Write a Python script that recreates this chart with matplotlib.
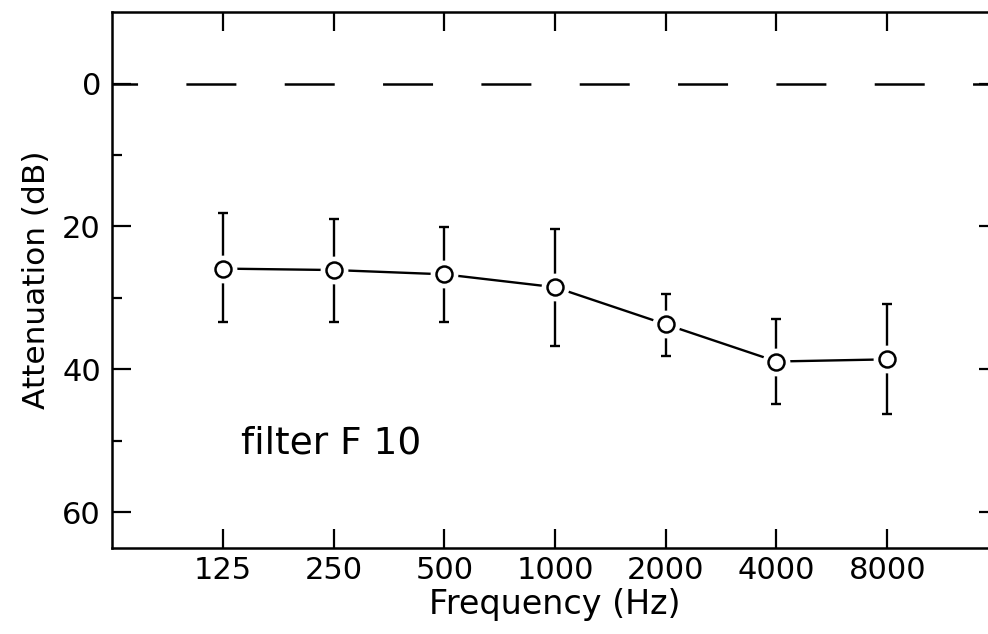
import numpy as np
import matplotlib.pyplot as plt

plt.rcParams['lines.scale_dashes'] = False
plt.rcParams['font.family'] = 'DejaVu Sans'

freqs = ['125', '250', '500', '1000', '2000', '4000', '8000']
atten = np.array([25.9, 26.1, 26.7, 28.5, 33.7, 38.9, 38.6])
err_top = np.array([18.1, 18.9, 20.1, 20.4, 29.4, 33.0, 30.9])
err_bottom = np.array([33.4, 33.4, 33.4, 36.8, 38.1, 44.9, 46.3])

x = np.arange(len(freqs))

fig = plt.figure(figsize=(9.88, 6.34), dpi=100)
ax = fig.add_axes([0.1134, 0.1356, 0.8967, 0.8454])

# reference line at 0 dB
ax.axhline(0, color='black', lw=1.8, linestyle=(17.6, (36.0, 34.8)), zorder=1)

yerr = [atten - err_top, err_bottom - atten]
ax.errorbar(x, atten, yerr=yerr, fmt='none', ecolor='black', elinewidth=1.7,
            capsize=3.4, capthick=1.7, zorder=2)
ax.plot(x, atten, color='black', lw=1.7, zorder=2)
# white halo so lines stop short of the circles
ax.plot(x, atten, 'o', ms=20, mfc='white', mec='none', zorder=3)
ax.plot(x, atten, 'o', ms=11.5, mfc='white', mec='black', mew=1.8, zorder=4)

ax.text(0.16, 51.8, 'filter F 10', fontsize=27, ha='left', va='baseline')

ax.set_xlim(-1, 7)
ax.set_ylim(65, -10)
ax.set_xticks(x)
ax.set_xticklabels(freqs)
ax.set_yticks([0, 20, 40, 60])
ax.set_yticks([10, 30, 50], minor=True)

ax.tick_params(axis='both', which='major', direction='in', length=14, width=1.6,
               labelsize=22, pad=6, top=True, right=True)
ax.tick_params(axis='y', which='minor', direction='in', length=7, width=1.6,
               left=True, right=True)
ax.tick_params(axis='y', which='major', pad=8)
for s in ax.spines.values():
    s.set_linewidth(1.8)

ax.set_xlabel('Frequency (Hz)', fontsize=24, labelpad=2)
ax.set_ylabel('Attenuation (dB)', fontsize=22.5, labelpad=8)

fig.savefig('out.png', dpi=100)
